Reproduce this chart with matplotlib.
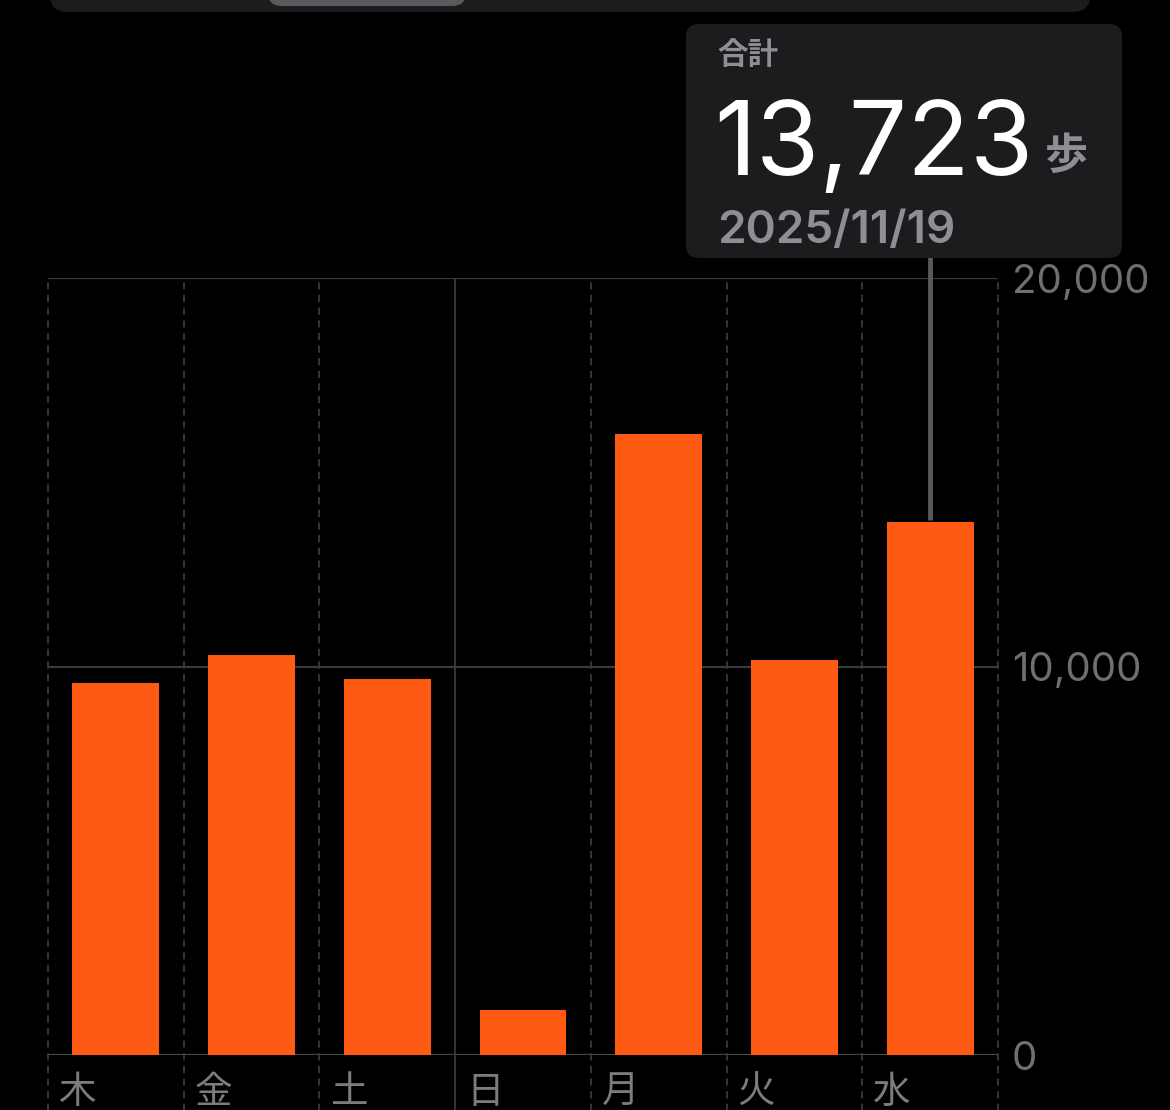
import matplotlib.pyplot as plt
from matplotlib.patches import FancyBboxPatch
from matplotlib.transforms import blended_transform_factory

plt.rcParams['font.family'] = ['Inter', 'Noto Sans CJK JP', 'DejaVu Sans']

days = ['木', '金', '土', '日', '月', '火', '水']
steps = [9580, 10300, 9680, 1160, 15990, 10170, 13723]
yticks = [0, 10000, 20000]
ytick_labels = ['0', '10,000', '20,000']
week_break = 3          # solid line before 日
selected = 6            # 水
total_label = '合計'
total_value = '13,723'
unit = '歩'
date_label = '2025/11/19'

W, H = 1170, 1110
bar_color = '#ff5a14'
grid_color = '#3a3a3c'
label_gray = '#8e8e93'
panel = '#1c1c1e'


def fx(px):
    return px / W


def fy(py):
    return 1 - py / H


fig = plt.figure(figsize=(W / 100, H / 100), dpi=100, facecolor='black')
ax = fig.add_axes([fx(48), fy(1055), fx(998) - fx(48), fy(278) - fy(1055)])
ax.set_facecolor('black')
ax.set_xlim(-0.5, len(days) - 0.5)
ax.set_ylim(0, 20000)

x = list(range(len(days)))
ax.bar(x, steps, width=0.64, color=bar_color, zorder=3)

# horizontal grid
for v in yticks:
    ax.axhline(v, color='#48484a' if v == 0 else grid_color, lw=1.6, zorder=1)

# vertical separators, extend below axis
for i in range(len(days) + 1):
    ls = '-' if i == week_break else (0, (4, 3))
    ax.vlines(i - 0.5, -1500, 20000, colors=grid_color, lw=1.3,
              linestyles=ls, clip_on=False, zorder=1)

for s in ax.spines.values():
    s.set_visible(False)
ax.set_xticks([])
ax.yaxis.tick_right()
ax.set_yticks(yticks)
ax.set_yticklabels(ytick_labels)
ax.tick_params(axis='y', length=0, pad=10, labelsize=29, labelcolor='#6e6e73')

# day labels under each slot
tr = blended_transform_factory(ax.transData, ax.transAxes)
for i, d in enumerate(days):
    ax.text(i - 0.5 + 0.08, -0.026, d, transform=tr, ha='left', va='top',
            fontsize=27, color='#7c7c80', clip_on=False)

# connector from tooltip to selected bar
ax.vlines(selected, steps[selected] + 60, 20000, colors='#5a5a5e', lw=3.5,
          clip_on=False, zorder=2)
ax.plot([selected, selected], [20000, 20000 + 20 * 20000 / 777], color='#5a5a5e',
        lw=3.5, clip_on=False, zorder=2)

# top segmented control
fig.patches.append(FancyBboxPatch((fx(50), fy(12)), fx(1090) - fx(50), 0.05,
                                  boxstyle='round,pad=0,rounding_size=0.015',
                                  transform=fig.transFigure, fc=panel, ec='none'))
fig.patches.append(FancyBboxPatch((fx(268), fy(6)), fx(466) - fx(268), 0.05,
                                  boxstyle='round,pad=0,rounding_size=0.012',
                                  transform=fig.transFigure, fc='#5a5a5e', ec='none'))

# tooltip
fig.patches.append(FancyBboxPatch((fx(686), fy(258)), fx(1122) - fx(686), fy(24) - fy(258),
                                  boxstyle='round,pad=0,rounding_size=0.011',
                                  transform=fig.transFigure, fc=panel, ec='none'))
fig.text(fx(717), fy(56), total_label, fontsize=22, color=label_gray,
         weight='bold', va='center', ha='left')
fig.text(fx(714), fy(175), total_value, fontsize=74, color='white',
         va='baseline', ha='left')
fig.text(fx(1045), fy(157), unit, fontsize=31, color=label_gray,
         weight='bold', va='center', ha='left')
fig.text(fx(717), fy(243), date_label, fontsize=33, color=label_gray,
         weight='semibold', va='baseline', ha='left')

fig.savefig('out.png', dpi=100, facecolor='black')
